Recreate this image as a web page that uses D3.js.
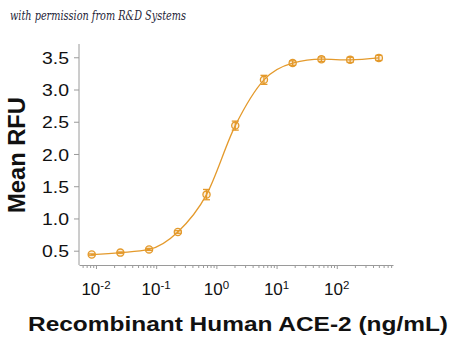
<!DOCTYPE html>
<html><head><meta charset="utf-8">
<script src="https://cdn.jsdelivr.net/npm/d3@7"></script>
<style>html,body{margin:0;padding:0;background:#fff;}svg{display:block;}</style>
</head><body>
<svg id="c" width="450" height="338"></svg>
<script>
const concentrations = [0.0085, 0.0254, 0.0762, 0.229, 0.686, 2.06, 6.17, 18.5, 55.6, 166.7, 500];
const meanRFU = [0.44, 0.47, 0.52, 0.79, 1.37, 2.44, 3.15, 3.41, 3.47, 3.46, 3.49];
const errRFU = [0.01, 0.01, 0.015, 0.02, 0.08, 0.07, 0.07, 0.035, 0.035, 0.04, 0.04];
const yTicks = [0.5, 1.0, 1.5, 2.0, 2.5, 3.0, 3.5];
const xMajor = [-2, -1, 0, 1, 2];
const xTitle = "Recombinant Human ACE-2 (ng/mL)";
const yTitle = "Mean RFU";
const credit = "with permission from R&D Systems";

const col = "#E49A2C";
const axisCol = "#9a9a9a";
const svg = d3.select("#c");

const x = d3.scaleLog().domain([Math.pow(10,-2.282), Math.pow(10,2.934)]).range([79, 393]);
const y = d3.scaleLinear().domain([0.278, 3.706]).range([265, 44]);

// credit
svg.append("text").attr("x", 10).attr("y", 20)
  .attr("font-family", "DejaVu Serif").attr("font-style", "italic")
  .attr("font-size", 12.5).attr("fill", "#1f1f3a")
  .attr("textLength", 176).attr("lengthAdjust", "spacingAndGlyphs")
  .text(credit);

// y axis
const yAxis = svg.append("g").attr("transform", "translate(79,0)")
  .call(d3.axisLeft(y).tickValues(yTicks).tickFormat(d3.format(".1f")).tickSize(5).tickSizeOuter(0));
yAxis.select(".domain").attr("stroke", axisCol).attr("d", `M0,${y.range()[1]}V${y.range()[0]}`);
yAxis.selectAll(".tick line").attr("stroke", axisCol);
yAxis.selectAll(".tick text").attr("font-family", "Liberation Sans, Arial, sans-serif")
  .attr("font-size", 17).attr("fill", "#111").attr("x", -10).attr("dy", "0.36em")
  .attr("textLength", 27).attr("lengthAdjust", "spacingAndGlyphs");

// x axis with minor ticks
const minor = [];
for (let e = -3; e <= 2; e++) for (let m = 1; m <= 9; m++) {
  const v = m * Math.pow(10, e);
  if (v >= x.domain()[0] && v <= x.domain()[1]) minor.push(v);
}
const xAxis = svg.append("g").attr("transform", "translate(0,265)")
  .call(d3.axisBottom(x).tickValues(minor).tickFormat("").tickSize(3).tickSizeOuter(0));
xAxis.select(".domain").attr("stroke", axisCol);
xAxis.selectAll(".tick line").attr("stroke", axisCol)
  .attr("y2", d => (Math.abs(Math.log10(d) - Math.round(Math.log10(d))) < 1e-9 ? 4 : 3));

// x labels 10^n
const xl = svg.append("g").attr("font-family", "Liberation Sans, Arial, sans-serif").attr("fill", "#111");
xMajor.forEach(e => {
  const t = xl.append("text").attr("x", x(Math.pow(10, e))).attr("y", 295)
    .attr("text-anchor", "middle").attr("font-size", 17);
  t.append("tspan").text("10");
  t.append("tspan").attr("font-size", 11.5).attr("dy", -6.5).text(e < 0 ? "-" + Math.abs(e) : String(e));
});

// titles
svg.append("text").attr("x", 238).attr("y", 331).attr("text-anchor", "middle")
  .attr("font-family", "Liberation Sans, Arial, sans-serif").attr("font-weight", "bold")
  .attr("font-size", 20.5).attr("fill", "#111")
  .attr("textLength", 420).attr("lengthAdjust", "spacingAndGlyphs").text(xTitle);
svg.append("text").attr("transform", "translate(25,155) rotate(-90)").attr("text-anchor", "middle")
  .attr("font-family", "Liberation Sans, Arial, sans-serif").attr("font-weight", "bold")
  .attr("font-size", 24).attr("fill", "#111")
  .attr("textLength", 116).attr("lengthAdjust", "spacingAndGlyphs").text(yTitle);

// data
const pts = concentrations.map((c, i) => ({c, v: meanRFU[i], e: errRFU[i]}));
svg.append("path").datum(pts).attr("fill", "none").attr("stroke", col).attr("stroke-width", 1.3)
  .attr("d", d3.line().x(d => x(d.c)).y(d => y(d.v)).curve(d3.curveMonotoneX));

const g = svg.append("g").attr("stroke", col).attr("stroke-width", 1.3).attr("fill", "none");
pts.forEach(d => {
  const cx = x(d.c), top = y(d.v + d.e), bot = y(d.v - d.e);
  g.append("line").attr("x1", cx).attr("x2", cx).attr("y1", top).attr("y2", bot);
  g.append("line").attr("x1", cx - 3.5).attr("x2", cx + 3.5).attr("y1", top).attr("y2", top);
  g.append("line").attr("x1", cx - 3.5).attr("x2", cx + 3.5).attr("y1", bot).attr("y2", bot);
  g.append("circle").attr("cx", cx).attr("cy", y(d.v)).attr("r", 3.6).attr("fill", "rgba(228,154,44,0.15)");
});
</script>
</body></html>
